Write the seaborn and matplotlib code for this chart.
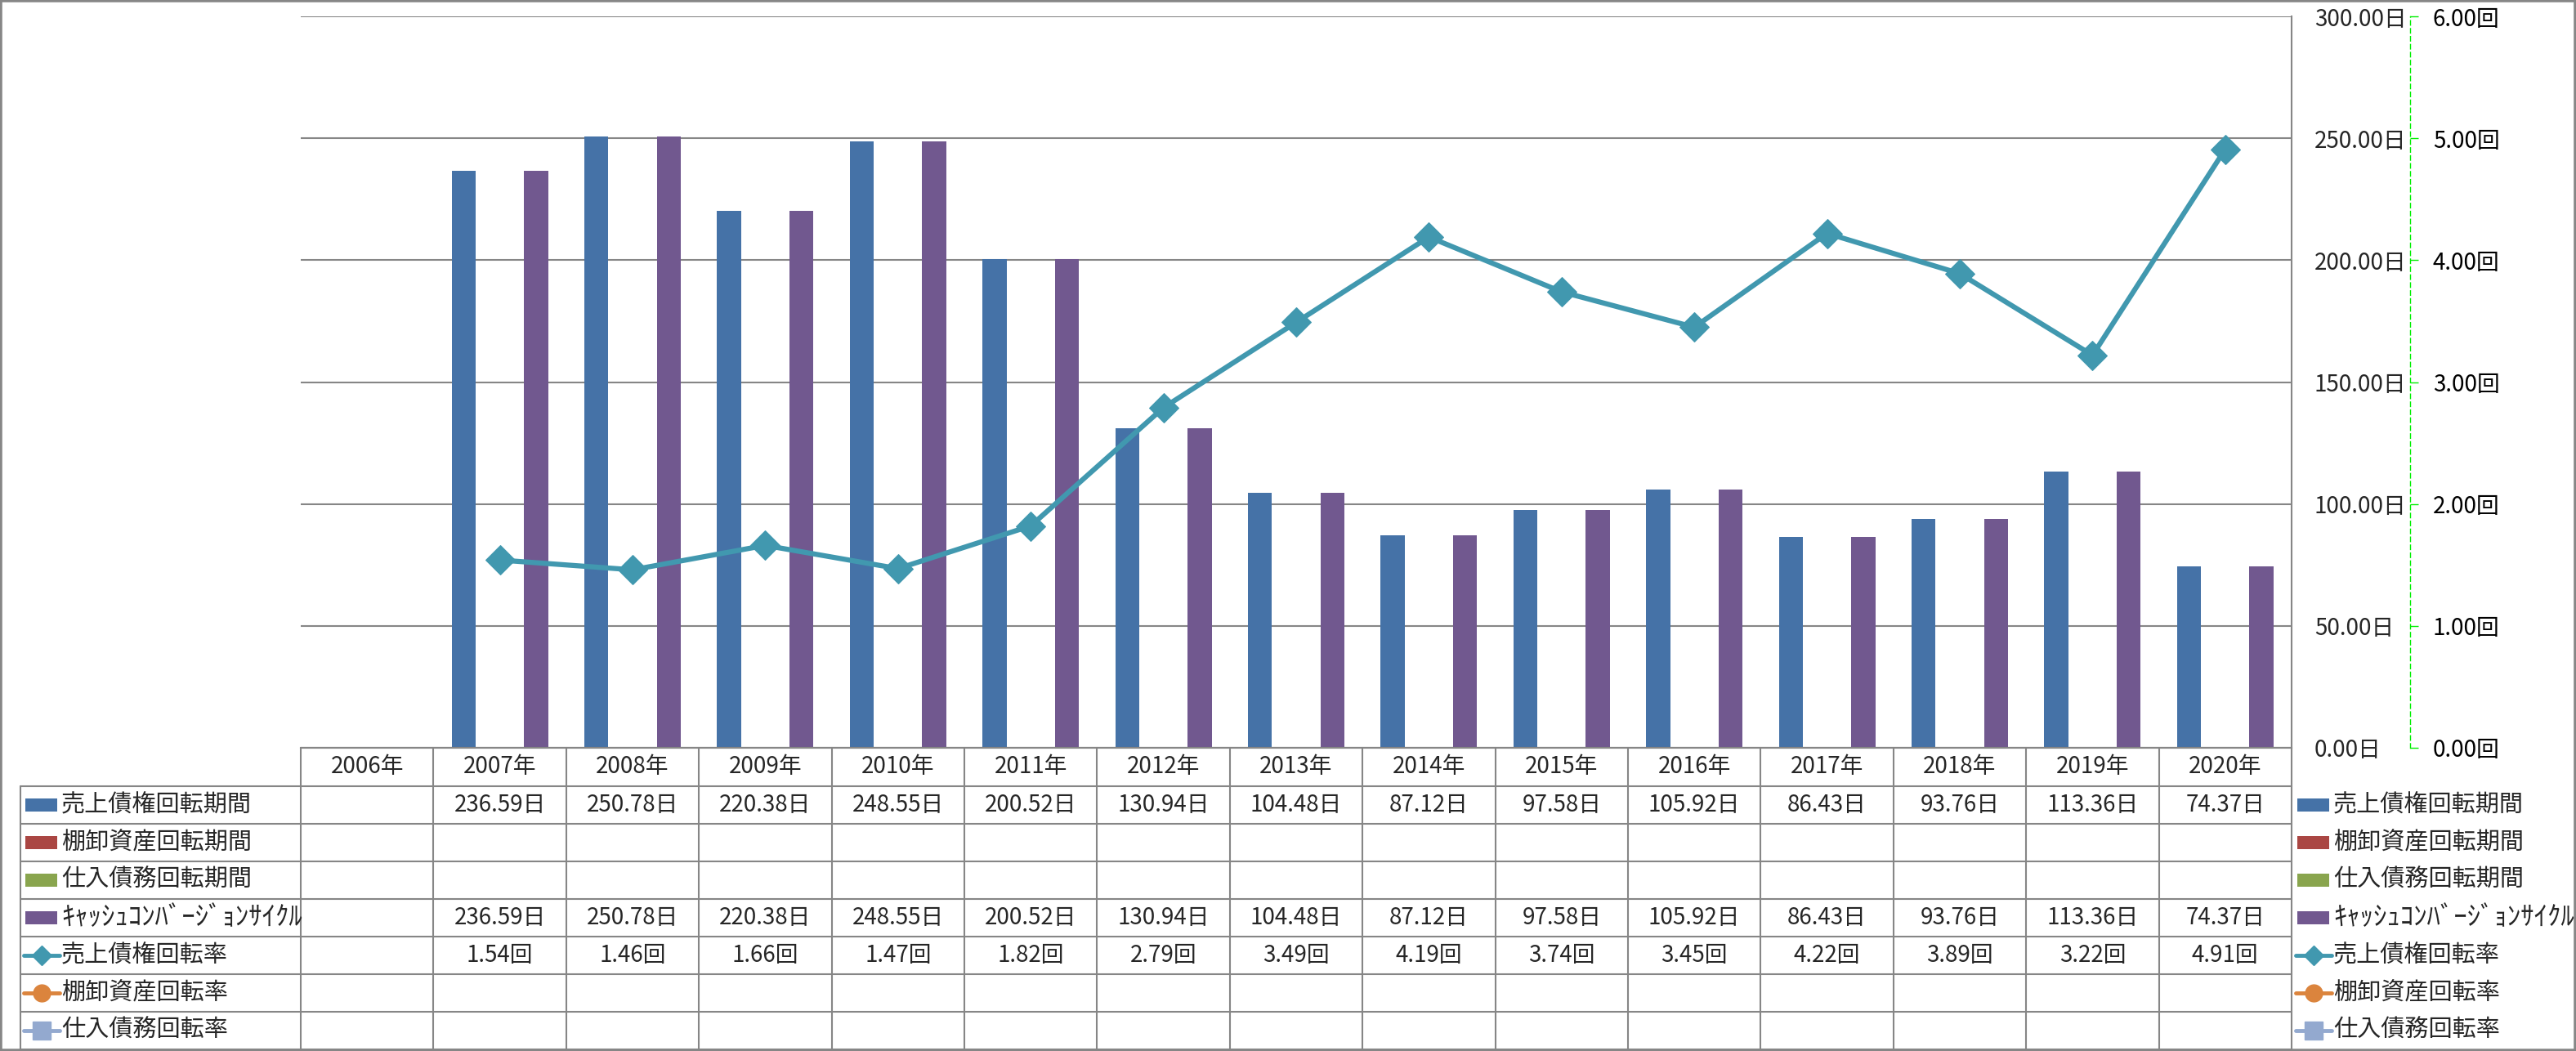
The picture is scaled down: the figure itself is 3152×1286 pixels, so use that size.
import numpy as np
import pandas as pd
import matplotlib
matplotlib.use("Agg")
import matplotlib.pyplot as plt
import matplotlib.transforms as mtransforms
from matplotlib.lines import Line2D
from matplotlib.patches import Rectangle
import seaborn as sns

# --- data ---
years = [f"{y}年" for y in range(2006, 2021)]
ar_days = [np.nan, 236.59, 250.78, 220.38, 248.55, 200.52, 130.94, 104.48,
           87.12, 97.58, 105.92, 86.43, 93.76, 113.36, 74.37]
inv_days = [np.nan] * 15
ap_days = [np.nan] * 15
ccc_days = [np.nan, 236.59, 250.78, 220.38, 248.55, 200.52, 130.94, 104.48,
            87.12, 97.58, 105.92, 86.43, 93.76, 113.36, 74.37]
ar_turn = [np.nan, 1.54, 1.46, 1.66, 1.47, 1.82, 2.79, 3.49,
           4.19, 3.74, 3.45, 4.22, 3.89, 3.22, 4.91]
inv_turn = [np.nan] * 15
ap_turn = [np.nan] * 15

bar_names = ["売上債権回転期間", "棚卸資産回転期間", "仕入債務回転期間", "ｷｬｯｼｭｺﾝﾊﾞｰｼﾞｮﾝｻｲｸﾙ"]
line_names = ["売上債権回転率", "棚卸資産回転率", "仕入債務回転率"]
bar_colors = ["#4572A7", "#AA4643", "#89A54E", "#71588F"]
line_colors = ["#4198AF", "#DB843D", "#93A9CF"]
line_markers = ["D", "o", "s"]
day_ticks = [0, 50, 100, 150, 200, 250, 300]
turn_ticks = [0, 1, 2, 3, 4, 5, 6]

sns.set_style("white")
plt.rcParams["font.family"] = ["Noto Sans CJK JP", "DejaVu Sans"]

W, H = 3152, 1286
L, R, T, B = 368, 2804, 20, 915   # plot area in pixels
GRAY = "#868686"

fig = plt.figure(figsize=(W / 100, H / 100), dpi=100)
ax = fig.add_axes([L / W, 1 - B / H, (R - L) / W, (B - T) / H])

# bars
bar_df = pd.DataFrame({
    "年": years * 4,
    "系列": np.repeat(bar_names, len(years)),
    "値": np.concatenate([ar_days, inv_days, ap_days, ccc_days]),
})
sns.barplot(data=bar_df, x="年", y="値", hue="系列", order=years, hue_order=bar_names,
            palette=bar_colors, width=0.727, gap=0, saturation=1, errorbar=None,
            legend=False, linewidth=0, ax=ax)

# rate line on second axis
ax2 = ax.twinx()
sns.lineplot(x=np.arange(len(years)), y=ar_turn, ax=ax2, color=line_colors[0],
             marker="D", markersize=18, markeredgecolor=line_colors[0],
             linewidth=4.5)

ax.set_xlim(-0.5, len(years) - 0.5)
ax.set_ylim(0, 300)
ax2.set_ylim(0, 6)
ax.set_xticks([])
ax.set_xlabel("")
ax.set_ylabel("")
ax2.set_ylabel("")

ax.set_yticks(day_ticks)
ax.set_yticklabels([f"{v:.2f}日" for v in day_ticks])
ax.yaxis.tick_right()
ax.tick_params(axis="y", length=0, pad=20, labelsize=20)
ax.yaxis.grid(True, color=GRAY, lw=1.5)
ax.set_axisbelow(True)
for s in ["top", "left"]:
    ax.spines[s].set_visible(False)
for s in ["bottom", "right"]:
    ax.spines[s].set_color(GRAY)
    ax.spines[s].set_linewidth(1.5)

ax2.set_yticks(turn_ticks)
ax2.set_yticklabels([f"{v:.2f}回" for v in turn_ticks])
ax2.grid(False)
for s in ["top", "left", "bottom"]:
    ax2.spines[s].set_visible(False)
ax2.spines["right"].set_position(("outward", 104.4))
ax2.spines["right"].set_color("#00EE00")
ax2.spines["right"].set_linewidth(1)
ax2.spines["right"].set_linestyle((0, (4, 3)))
ax2.tick_params(axis="y", color="#00EE00", length=7, width=1, pad=13,
                labelsize=20, labelcolor="black")

# --- data table below the plot ---
blend = mtransforms.blended_transform_factory(ax.transData, fig.transFigure)
ff = fig.transFigure


def fy(py):
    return 1 - py / H


def fx(px):
    return px / W


HEAD_B = 962
ROW_H = 46
n_rows = 7
row_tops = [HEAD_B + k * ROW_H for k in range(n_rows + 1)]
LAB_L = 25

# horizontal lines
fig.add_artist(Line2D([-0.5, len(years) - 0.5], [fy(B), fy(B)], transform=blend, color=GRAY, lw=1.5))
for yy in row_tops:
    fig.add_artist(Line2D([fx(LAB_L), fx(R)], [fy(yy), fy(yy)], transform=ff, color=GRAY, lw=1.5))
# vertical lines
fig.add_artist(Line2D([fx(LAB_L), fx(LAB_L)], [fy(HEAD_B), fy(row_tops[-1])], transform=ff, color=GRAY, lw=1.5))
for i in range(len(years) + 1):
    fig.add_artist(Line2D([i - 0.5, i - 0.5], [fy(B), fy(row_tops[-1])], transform=blend, color=GRAY, lw=1.5))

# header
for i, yname in enumerate(years):
    fig.text(i, fy((B + HEAD_B) / 2), yname, transform=blend, ha="center", va="center", fontsize=20)

rows = [
    (bar_names[0], ar_days, "日"),
    (bar_names[1], inv_days, "日"),
    (bar_names[2], ap_days, "日"),
    (bar_names[3], ccc_days, "日"),
    (line_names[0], ar_turn, "回"),
    (line_names[1], inv_turn, "回"),
    (line_names[2], ap_turn, "回"),
]


def draw_key(k, x0, yc):
    if k < 4:
        fig.add_artist(Rectangle((fx(x0), fy(yc + 8)), 39 / W, 16 / H, transform=ff,
                                 facecolor=bar_colors[k], edgecolor="none"))
    else:
        j = k - 4
        ms = [12, 15, 16][j]
        fig.add_artist(Line2D([fx(x0 - 2), fx(x0 + 42)], [fy(yc), fy(yc)], transform=ff,
                              color=line_colors[j], lw=3.5))
        fig.add_artist(Line2D([fx(x0 + 20)], [fy(yc)], transform=ff, color=line_colors[j],
                              marker=line_markers[j], markersize=ms, lw=0,
                              markeredgecolor=line_colors[j]))


for k, (name, vals, unit) in enumerate(rows):
    yc = row_tops[k] + ROW_H / 2
    # half-width katakana label renders narrow, bump its size a bit
    lab_size = 23.5 if k == 3 else 21
    # left label column
    draw_key(k, 31, yc)
    fig.text(fx(75), fy(yc), name, transform=ff, ha="left", va="center", fontsize=lab_size)
    # right legend
    draw_key(k, 2811, yc)
    fig.text(fx(2855), fy(yc), name, transform=ff, ha="left", va="center", fontsize=lab_size)
    for i, v in enumerate(vals):
        if not np.isnan(v):
            fig.text(i, fy(yc), f"{v:.2f}{unit}", transform=blend, ha="center", va="center", fontsize=20)

# outer chart frame
fig.add_artist(Rectangle((0, 0), 1, 1, transform=ff, fill=False, edgecolor=GRAY, lw=4))

fig.savefig("out.png", dpi=100, facecolor="white")
